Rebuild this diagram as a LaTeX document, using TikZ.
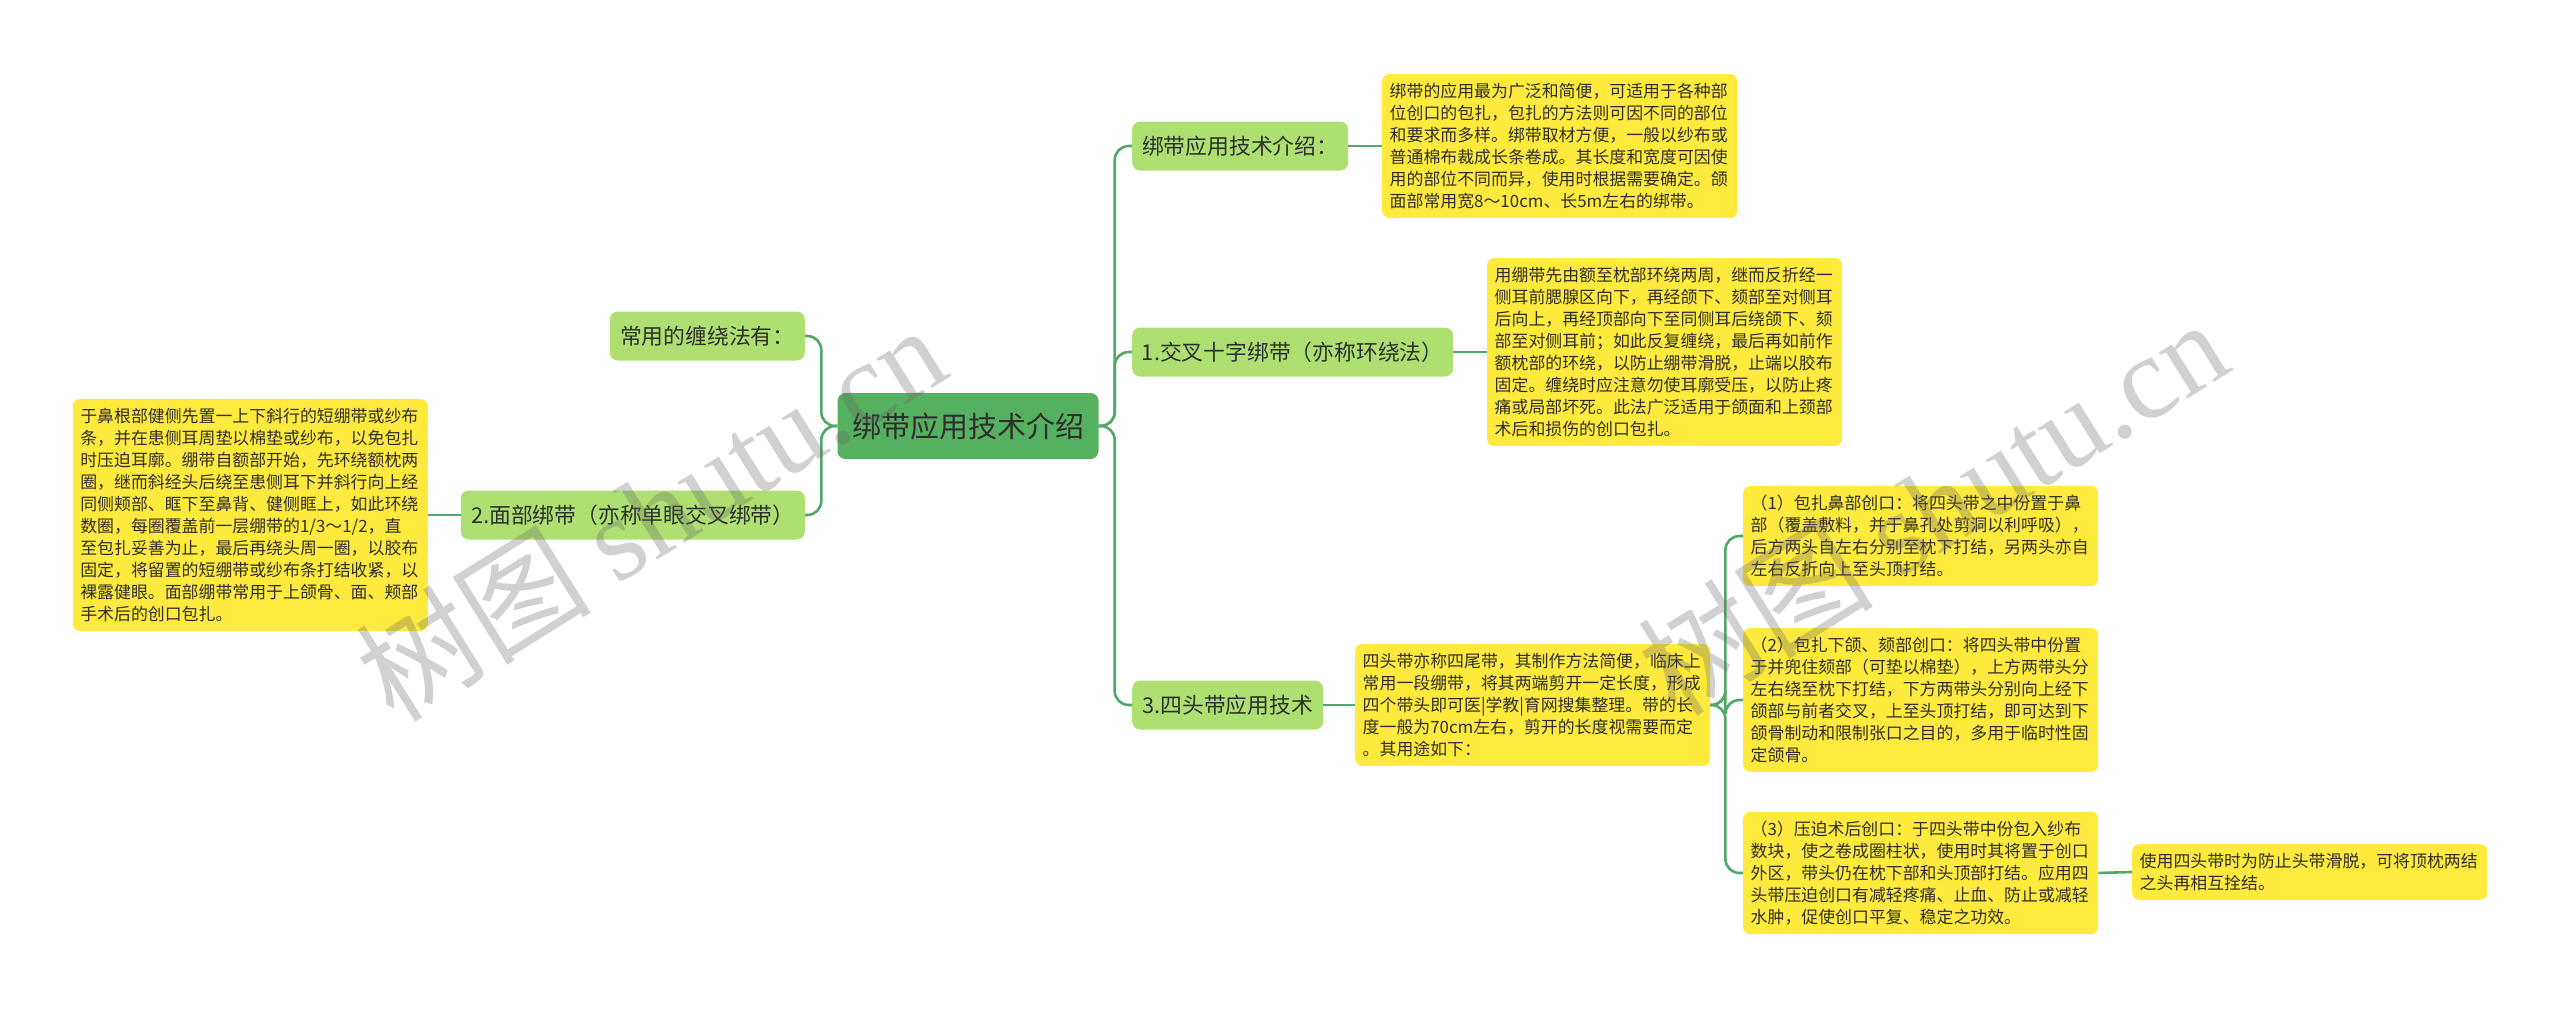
\documentclass[tikz,border=0pt]{standalone}
\usepackage{fontspec}
\setmainfont{Noto Sans CJK SC}
\newfontfamily\wmserif{Liberation Serif}
\definecolor{cengreen}{HTML}{55B15F}
\definecolor{lvgreen}{HTML}{ADE070}
\definecolor{ylw}{HTML}{FFEA3D}
\definecolor{linegreen}{HTML}{52A866}
\definecolor{txt}{HTML}{2E2E2E}
\tikzset{
  cenbox/.style={fill=cengreen, rounded corners=8pt, text=txt, font=\fontsize{29pt}{34pt}\selectfont, minimum width=261pt, minimum height=66pt, inner sep=0pt},
  lvbox/.style={fill=lvgreen, rounded corners=8pt, text=txt, font=\fontsize{21.8pt}{26pt}\selectfont, minimum height=49pt, inner sep=0pt},
  ybox/.style={fill=ylw, rounded corners=7pt, text=txt, font=\fontsize{16.9pt}{22pt}\selectfont, align=left, text width=340pt, inner xsep=7.5pt, inner ysep=9pt},
  conn/.style={draw=linegreen, line width=2.6pt, rounded corners=14pt},
  wmark/.style={text=black!60, opacity=0.3, font=\fontsize{118pt}{130pt}\selectfont, inner sep=0pt}
}
\begin{document}
\begin{tikzpicture}[x=1pt, y=-1pt]
\useasboundingbox (0,0) rectangle (2560,1009);
% central
\node[cenbox] (c) at (968,426) {绑带应用技术介绍};
% right level 1
\node[lvbox, minimum width=216pt, anchor=west] (a) at (1132,146) {绑带应用技术介绍：};
\node[lvbox, minimum width=321pt, anchor=west] (b) at (1132,352) {1.交叉十字绑带（亦称环绕法）};
\node[lvbox, minimum width=191pt, anchor=west] (d) at (1132,705) {3.四头带应用技术};
% left level 1
\node[lvbox, minimum width=195pt, anchor=east] (l1) at (805,336) {常用的缠绕法有：};
\node[lvbox, minimum width=344pt, anchor=east] (l2) at (805,515) {2.面部绑带（亦称单眼交叉绑带）};
% yellow boxes
\node[ybox, anchor=west] (ya) at (1382,146) {绑带的应用最为广泛和简便，可适用于各种部\\位创口的包扎，包扎的方法则可因不同的部位\\和要求而多样。绑带取材方便，一般以纱布或\\普通棉布裁成长条卷成。其长度和宽度可因使\\用的部位不同而异，使用时根据需要确定。颌\\面部常用宽8～10cm、长5m左右的绑带。};
\node[ybox, anchor=west] (yb) at (1487,352) {用绷带先由额至枕部环绕两周，继而反折经一\\侧耳前腮腺区向下，再经颌下、颏部至对侧耳\\后向上，再经顶部向下至同侧耳后绕颌下、颏\\部至对侧耳前；如此反复缠绕，最后再如前作\\额枕部的环绕，以防止绷带滑脱，止端以胶布\\固定。缠绕时应注意勿使耳廓受压，以防止疼\\痛或局部坏死。此法广泛适用于颌面和上颈部\\术后和损伤的创口包扎。};
\node[ybox, anchor=east] (yl) at (428,515) {于鼻根部健侧先置一上下斜行的短绷带或纱布\\条，并在患侧耳周垫以棉垫或纱布，以免包扎\\时压迫耳廓。绷带自额部开始，先环绕额枕两\\圈，继而斜经头后绕至患侧耳下并斜行向上经\\同侧颊部、眶下至鼻背、健侧眶上，如此环绕\\数圈，每圈覆盖前一层绷带的1/3～1/2，直\\至包扎妥善为止，最后再绕头周一圈，以胶布\\固定，将留置的短绷带或纱布条打结收紧，以\\裸露健眼。面部绷带常用于上颌骨、面、颊部\\手术后的创口包扎。};
\node[ybox, anchor=west] (yd) at (1355,705) {四头带亦称四尾带，其制作方法简便，临床上\\常用一段绷带，将其两端剪开一定长度，形成\\四个带头即可医|学教|育网搜集整理。带的长\\度一般为70cm左右，剪开的长度视需要而定\\。其用途如下：};
\node[ybox, anchor=west] (y1) at (1743,536) {（1）包扎鼻部创口：将四头带之中份置于鼻\\部（覆盖敷料，并于鼻孔处剪洞以利呼吸），\\后方两头自左右分别至枕下打结，另两头亦自\\左右反折向上至头顶打结。};
\node[ybox, anchor=west] (y2) at (1743,700) {（2）包扎下颌、颏部创口：将四头带中份置\\于并兜住颏部（可垫以棉垫），上方两带头分\\左右绕至枕下打结，下方两带头分别向上经下\\颌部与前者交叉，上至头顶打结，即可达到下\\颌骨制动和限制张口之目的，多用于临时性固\\定颌骨。};
\node[ybox, anchor=west] (y3) at (1743,873) {（3）压迫术后创口：于四头带中份包入纱布\\数块，使之卷成圈柱状，使用时其将置于创口\\外区，带头仍在枕下部和头顶部打结。应用四\\头带压迫创口有减轻疼痛、止血、防止或减轻\\水肿，促使创口平复、稳定之功效。};
\node[ybox, anchor=west] (y4) at (2132,872) {使用四头带时为防止头带滑脱，可将顶枕两结\\之头再相互拴结。};
% connectors
\draw[conn] (c.east) -- ++(16,0) |- (a.west);
\draw[conn] (c.east) -- ++(16,0) |- (b.west);
\draw[conn] (c.east) -- ++(16,0) |- (d.west);
\draw[conn] (c.west) -- ++(-16,0) |- (l1.east);
\draw[conn] (c.west) -- ++(-16,0) |- (l2.east);
\draw[conn] (a.east) -- (ya.west);
\draw[conn] (b.east) -- (yb.west);
\draw[conn] (d.east) -- (yd.west);
\draw[conn] (l2.west) -- (yl.east);
\draw[conn] (yd.east) -- ++(15,0) |- (y1.west);
\draw[conn] (yd.east) -- ++(15,0) |- (y2.west);
\draw[conn] (yd.east) -- ++(15,0) |- (y3.west);
\draw[conn] (y3.east) -- (y4.west);
% watermarks
\node[wmark, rotate=32] (wm1) at (650,512) {树图 {\wmserif shutu.cn}};
\node[wmark, rotate=32] (wm2) at (1932,506) {树图 {\wmserif shutu.cn}};
\end{tikzpicture}
\end{document}
